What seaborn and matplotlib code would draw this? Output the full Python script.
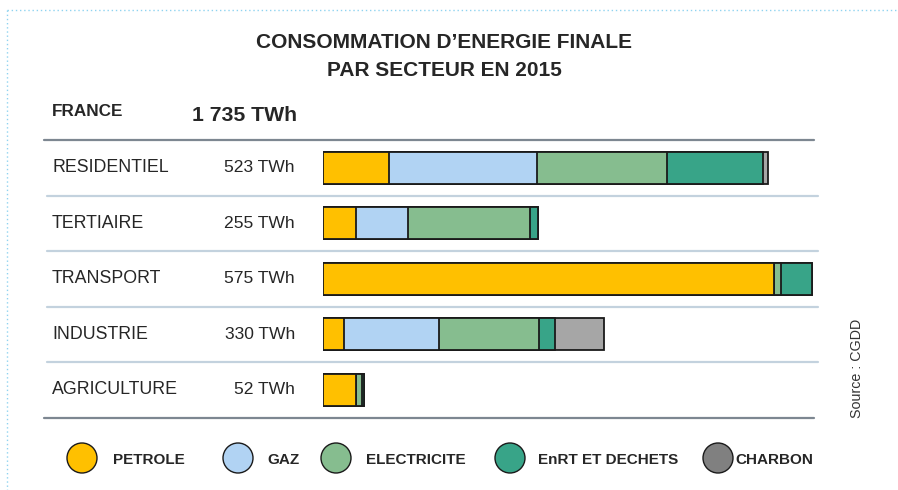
import matplotlib
matplotlib.use("Agg")
import matplotlib.pyplot as plt
import matplotlib.transforms as mtransforms
from matplotlib.patches import Ellipse
from matplotlib.lines import Line2D
from matplotlib import font_manager
import seaborn as sns
import numpy as np
import pandas as pd

sns.set_style("white")
plt.rcParams['font.family'] = ['Liberation Sans', 'DejaVu Sans']

# ---- data ----
sectors = ["RESIDENTIEL", "TERTIAIRE", "TRANSPORT", "INDUSTRIE", "AGRICULTURE"]
totals_label = ["523 TWh", "255 TWh", "575 TWh", "330 TWh", "52 TWh"]
energies = ["PETROLE", "GAZ", "ELECTRICITE", "EnRT ET DECHETS", "CHARBON"]
petrole = [77, 38, 530, 24, 38]
gaz = [174, 62, 0, 112, 0]
electricite = [153, 143, 9, 118, 8]
enrt = [113, 10, 36, 19, 2]
charbon = [6, 0, 0, 57, 0]
bar_colors = ["#FFC000", "#B1D3F3", "#86BD8F", "#38A488", "#A6A6A6"]
legend_colors = ["#FFC000", "#B1D3F3", "#86BD8F", "#38A488", "#808080"]

df = pd.DataFrame({"secteur": sectors, "PETROLE": petrole, "GAZ": gaz,
                   "ELECTRICITE": electricite, "EnRT ET DECHETS": enrt,
                   "CHARBON": charbon})
cum = df[energies].cumsum(axis=1)

installed = {f.name for f in font_manager.fontManager.ttflist}
if "Liberation Sans Narrow" in installed:
    leg_family, leg_size = ["Liberation Sans Narrow", "DejaVu Sans"], 13
else:
    leg_family, leg_size = ["Liberation Sans", "DejaVu Sans"], 11

W, H = 898, 490
fig = plt.figure(figsize=(W / 100, H / 100), dpi=100)
fig.patch.set_facecolor("white")

def fx(px):
    return px / W

def fy(py):
    return 1 - py / H

ax_left, ax_right = 323.3, 323.3 + 580 * 0.85
ax_top, ax_bot = 140, 417.7
ax = fig.add_axes([fx(ax_left), fy(ax_bot), fx(ax_right - ax_left), (ax_bot - ax_top) / H])

for i in range(len(energies) - 1, -1, -1):
    e = energies[i]
    sns.barplot(x=cum[e].values, y=df["secteur"], orient="h", color=bar_colors[i],
                saturation=1, edgecolor="#1a1a1a", linewidth=1.3, width=0.577,
                ax=ax, errorbar=None)

ax.set_xlim(0, 580)
ax.set_ylim(4.5, -0.5)
ax.set_axis_off()

trans = mtransforms.blended_transform_factory(fig.transFigure, ax.transData)

for k, yv in enumerate([-0.5, 0.5, 1.5, 2.5, 3.5, 4.5]):
    if k in (0, 5):
        col, lw, x0, x1 = "#7D8791", 1.6, fx(44), fx(814)
    else:
        col, lw, x0, x1 = "#C3D2DE", 1.6, fx(47), fx(818)
    fig.add_artist(Line2D([x0, x1], [yv, yv], transform=trans, color=col, lw=lw))

for i, (s, t) in enumerate(zip(sectors, totals_label)):
    fig.text(fx(52), i, s, transform=trans, ha="left", va="center",
             fontsize=12.8, color="#262626")
    fig.text(fx(295), i, t, transform=trans, ha="right", va="center",
             fontsize=12.6, color="#262626")

fig.text(fx(444), fy(43), "CONSOMMATION D\u2019ENERGIE FINALE", ha="center", va="center",
         fontsize=15, fontweight="bold", color="#262626")
fig.text(fx(444), fy(70), "PAR SECTEUR EN 2015", ha="center", va="center",
         fontsize=15, fontweight="bold", color="#262626")
fig.text(fx(52), fy(112), "FRANCE", ha="left", va="center",
         fontsize=12.3, fontweight="bold", color="#262626")
fig.text(fx(192), fy(115), "1 735 TWh", ha="left", va="center",
         fontsize=15.3, fontweight="bold", color="#262626")

fig.text(fx(857), fy(368), "Source : CGDD", rotation=90, ha="center", va="center",
         fontsize=10.3, color="#333333")

circ_x = [82, 238, 336, 510, 718]
text_x = [113, 267, 366, 538, 735]
for cx, tx, lab, c in zip(circ_x, text_x, energies, legend_colors):
    fig.add_artist(Ellipse((fx(cx), fy(458)), width=fx(30), height=30 / H,
                           transform=fig.transFigure, facecolor=c,
                           edgecolor="#1a1a1a", lw=1.0))
    fig.text(fx(tx), fy(460), lab, ha="left", va="center", fontsize=leg_size,
             fontweight="bold", color="#262626", family=leg_family)

fig.add_artist(Line2D([fx(7), 1.0], [fy(10), fy(10)], transform=fig.transFigure,
                      color="#8FD3F0", lw=1.0, linestyle=(0, (1, 2))))
fig.add_artist(Line2D([fx(7), fx(7)], [fy(10), 0.0], transform=fig.transFigure,
                      color="#8FD3F0", lw=1.0, linestyle=(0, (1, 2))))

fig.savefig("out.png", dpi=100, facecolor="white")
